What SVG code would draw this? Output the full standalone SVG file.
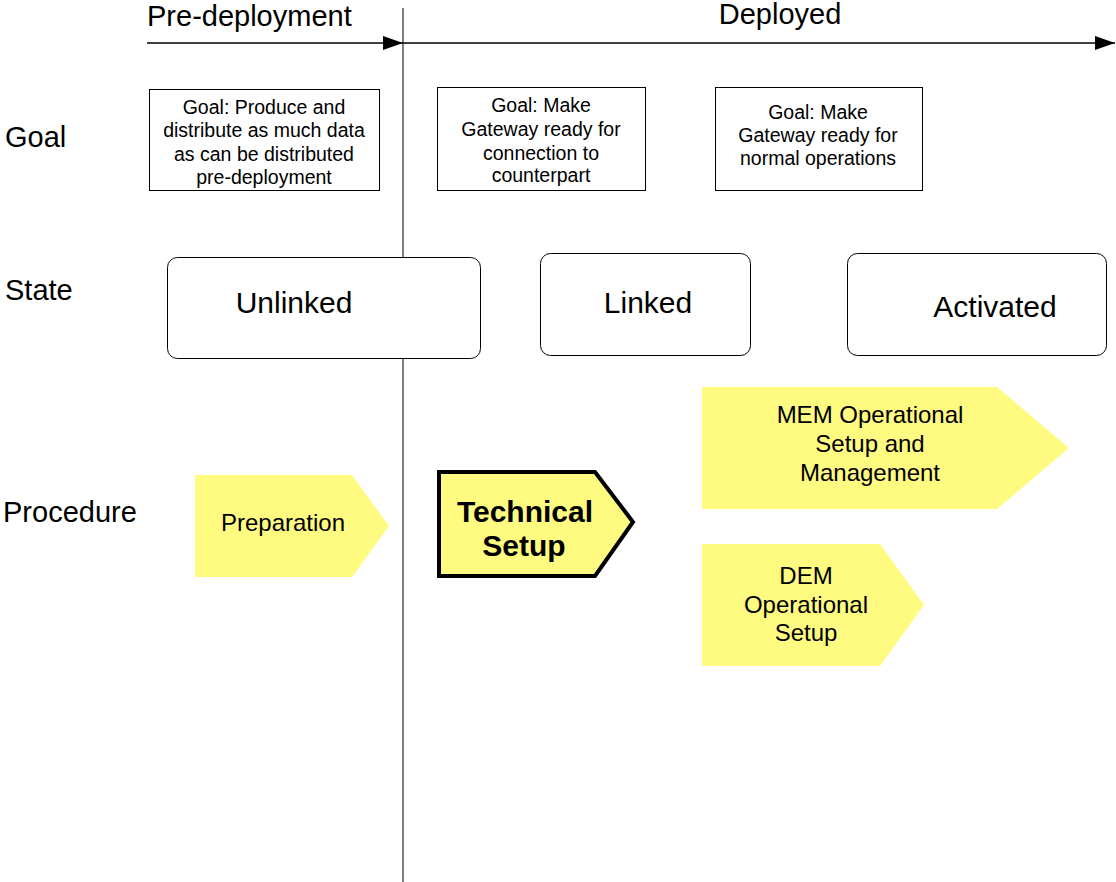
<svg xmlns="http://www.w3.org/2000/svg" width="1116" height="882" viewBox="0 0 1116 882">
<defs>
<style>
text{font-family:"Liberation Sans",Arial,sans-serif;fill:#000}
.lbl{font-size:29px}
.goal{font-size:19.5px;text-anchor:middle}
.state{font-size:30px;text-anchor:middle}
.proc{font-size:24px;text-anchor:middle}
.gbox{fill:#fff;stroke:#000;stroke-width:1}
.sbox{fill:#fff;stroke:#000;stroke-width:1}
.arrow{fill:#FFFA80;stroke:none}
.line{stroke:#000;stroke-width:1.5;fill:none}
</style>
<marker id="ah" markerWidth="20" markerHeight="14" refX="20" refY="7" orient="auto" markerUnits="userSpaceOnUse">
<path d="M0,0 L20,7 L0,14 Z" fill="#000"/>
</marker>
</defs>
<rect width="1116" height="882" fill="#fff"/>
<g id="connectors">
<line x1="403" y1="8" x2="403" y2="882" stroke="#555" stroke-width="1.5"/>
<line class="line" x1="147" y1="43" x2="403" y2="43" marker-end="url(#ah)"/>
<line class="line" x1="403" y1="43" x2="1115" y2="43" marker-end="url(#ah)"/>
</g>
<g id="headers">
<text class="lbl" x="147" y="26">Pre-deployment</text>
<text class="lbl" x="780" y="24" text-anchor="middle">Deployed</text>
<text class="lbl" x="5" y="147">Goal</text>
<text class="lbl" x="5" y="300">State</text>
<text class="lbl" x="3" y="522">Procedure</text>
</g>
<g id="goal1">
<rect class="gbox" x="149.5" y="89.5" width="230" height="101"/>
<text class="goal" x="264" y="114">Goal: Produce and</text>
<text class="goal" x="264" y="137">distribute as much data</text>
<text class="goal" x="264" y="161">as can be distributed</text>
<text class="goal" x="264" y="184">pre-deployment</text>
</g>
<g id="goal2">
<rect class="gbox" x="437.5" y="87.5" width="208" height="103"/>
<text class="goal" x="541" y="112">Goal: Make</text>
<text class="goal" x="541" y="136">Gateway ready for</text>
<text class="goal" x="541" y="160">connection to</text>
<text class="goal" x="541" y="182">counterpart</text>
</g>
<g id="goal3">
<rect class="gbox" x="715.5" y="87.5" width="207" height="103"/>
<text class="goal" x="818" y="119">Goal: Make</text>
<text class="goal" x="818" y="142">Gateway ready for</text>
<text class="goal" x="818" y="165">normal operations</text>
</g>
<g id="unlinked">
<rect class="sbox" x="167.5" y="257.5" width="313" height="101" rx="10"/>
<text class="state" x="294" y="313">Unlinked</text>
</g>
<g id="linked">
<rect class="sbox" x="540.5" y="253.5" width="210" height="102" rx="10"/>
<text class="state" x="648" y="313">Linked</text>
</g>
<g id="activated">
<rect class="sbox" x="847.5" y="253.5" width="259" height="102" rx="10"/>
<text class="state" x="995" y="317">Activated</text>
</g>
<g id="preparation">
<polygon class="arrow" points="195,475 352,475 389,526 352,577 195,577"/>
<text class="proc" x="283" y="531" font-size="22.5">Preparation</text>
</g>
<g id="technical">
<polygon points="439,472 595,472 633,522 595,576 439,576" fill="#FFFA80" stroke="#000" stroke-width="4" stroke-linejoin="miter"/>
<text x="525" y="522" font-size="30" font-weight="bold" text-anchor="middle">Technical</text>
<text x="524" y="556" font-size="30" font-weight="bold" text-anchor="middle">Setup</text>
</g>
<g id="mem">
<polygon class="arrow" points="702,387 997,387 1069,448 997,509 702,509"/>
<text class="proc" x="870" y="423">MEM Operational</text>
<text class="proc" x="870" y="452">Setup and</text>
<text class="proc" x="870" y="481">Management</text>
</g>
<g id="dem">
<polygon class="arrow" points="702,544 880,544 924,605 880,666 702,666"/>
<text class="proc" x="806" y="584">DEM</text>
<text class="proc" x="806" y="613">Operational</text>
<text class="proc" x="806" y="641">Setup</text>
</g>
</svg>
